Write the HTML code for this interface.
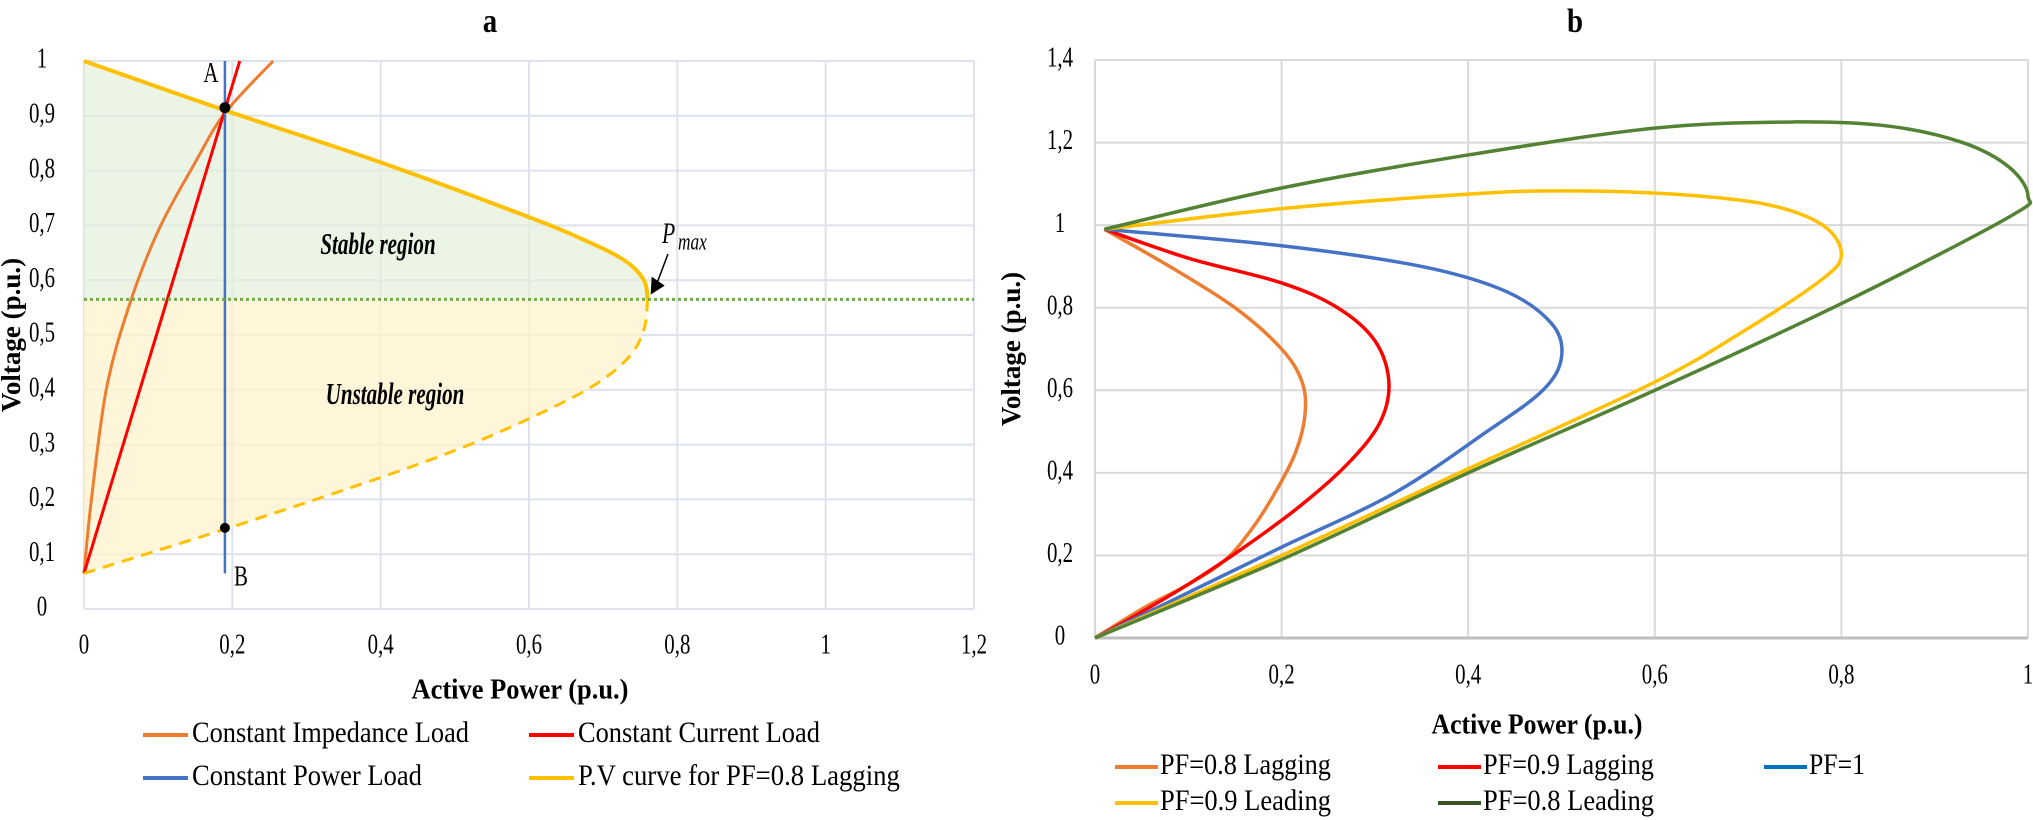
<!DOCTYPE html>
<html><head><meta charset="utf-8"><style>
html,body{margin:0;padding:0;background:#fff;}
svg{display:block;font-family:"Liberation Serif",serif;}
</style></head><body>
<svg id="svg" width="2033" height="820" viewBox="0 0 2033 820" xmlns="http://www.w3.org/2000/svg"></svg>
<script>
// ---------- Chart a data ----------
const aXTicks = [0, 0.2, 0.4, 0.6, 0.8, 1, 1.2];
const aYTicks = [0, 0.1, 0.2, 0.3, 0.4, 0.5, 0.6, 0.7, 0.8, 0.9, 1];
const pvUpperP = [0, 0.19, 0.4, 0.6, 0.68, 0.73, 0.755, 0.76];
const pvUpperV = [1, 0.91, 0.815, 0.715, 0.67, 0.635, 0.6, 0.565];
const pvLowerP = [0.76, 0.755, 0.735, 0.69, 0.62, 0.52, 0.4, 0.2, 0];
const pvLowerV = [0.565, 0.51, 0.46, 0.41, 0.36, 0.3, 0.24, 0.15, 0.065];
const impP = [0, 0.01, 0.03, 0.06, 0.1, 0.15, 0.19, 0.255];
const impV = [0.065, 0.2, 0.4, 0.55, 0.69, 0.815, 0.905, 1.0];
const curP = [0, 0.21];
const curV = [0.065, 1.0];
const powP = [0.19, 0.19];
const powV = [0.065, 1.0];
const limitV = 0.565;
const pointA = [0.19, 0.915];
const pointB = [0.19, 0.148];
const pmaxPoint = [0.76, 0.57];
// ---------- Chart b data ----------
const bXTicks = [0, 0.2, 0.4, 0.6, 0.8, 1];
const bYTicks = [0, 0.2, 0.4, 0.6, 0.8, 1, 1.2, 1.4];
const lag08P = [0.01, 0.08, 0.15, 0.2, 0.222, 0.225, 0.215, 0.195, 0.17, 0.14, 0.1, 0.05, 0];
const lag08V = [0.99, 0.9, 0.8, 0.7, 0.62, 0.54, 0.45, 0.36, 0.27, 0.19, 0.13, 0.07, 0];
const lag09P = [0.01, 0.1, 0.2, 0.26, 0.3, 0.315, 0.305, 0.27, 0.22, 0.16, 0.1, 0.04, 0];
const lag09V = [0.99, 0.92, 0.86, 0.8, 0.72, 0.62, 0.52, 0.42, 0.32, 0.22, 0.13, 0.05, 0];
const pf1P = [0.01, 0.2, 0.35, 0.44, 0.49, 0.5, 0.48, 0.42, 0.32, 0.2, 0.1, 0];
const pf1V = [0.99, 0.95, 0.9, 0.84, 0.76, 0.68, 0.6, 0.5, 0.35, 0.22, 0.11, 0];
const lead09P = [0.01, 0.2, 0.4, 0.5, 0.62, 0.72, 0.78, 0.8, 0.78, 0.7, 0.6, 0.4, 0.2, 0];
const lead09V = [0.99, 1.04, 1.075, 1.083, 1.075, 1.05, 1.0, 0.93, 0.87, 0.75, 0.62, 0.41, 0.2, 0];
const lead08P = [0.01, 0.2, 0.4, 0.6, 0.75, 0.85, 0.93, 0.98, 1.0, 0.98, 0.8, 0.6, 0.4, 0.2, 0];
const lead08V = [0.99, 1.09, 1.17, 1.235, 1.25, 1.24, 1.2, 1.14, 1.07, 1.02, 0.81, 0.6, 0.4, 0.19, 0];

const NS = "http://www.w3.org/2000/svg";
const svg = document.getElementById('svg');
function mk(tag, attrs, parent) {
  const e = document.createElementNS(NS, tag);
  for (const k in attrs) e.setAttribute(k, attrs[k]);
  (parent || svg).appendChild(e);
  return e;
}
function txt(str, x, y, size, opts, parent) {
  opts = opts || {};
  const g = mk('g', {}, parent);
  const t = mk('text', {x: 0, y: 0, 'font-size': size, 'text-anchor': opts.anchor || 'middle', 'dominant-baseline': 'middle', fill: '#000', 'font-weight': opts.bold ? 'bold' : 'normal', 'font-style': opts.italic ? 'italic' : 'normal'}, g);
  t.textContent = str;
  let sx = opts.sx || 0.72;
  if (opts.w) { const len = t.getComputedTextLength(); if (len > 0) sx = opts.w / len; }
  g.setAttribute('transform', `translate(${x},${y}) ${opts.rot ? 'rotate(' + opts.rot + ')' : ''} scale(${sx},1)`);
  return g;
}
function smooth(pts) {
  if (pts.length < 3) return 'M' + pts.map(p => p.join(',')).join('L');
  let d = 'M' + pts[0][0] + ',' + pts[0][1];
  for (let i = 0; i < pts.length - 1; i++) {
    const p0 = pts[i - 1] || pts[i], p1 = pts[i], p2 = pts[i + 1], p3 = pts[i + 2] || p2;
    const c1 = [p1[0] + (p2[0] - p0[0]) / 6, p1[1] + (p2[1] - p0[1]) / 6];
    const c2 = [p2[0] - (p3[0] - p1[0]) / 6, p2[1] - (p3[1] - p1[1]) / 6];
    d += `C${c1[0]},${c1[1]} ${c2[0]},${c2[1]} ${p2[0]},${p2[1]}`;
  }
  return d;
}

// ================= Chart a =================
const ax = v => 84 + v / 1.2 * 890;
const ay = v => 609 - v * 548;
const gA = mk('g', {});


txt('a', 490, 24, 34, {bold: true, sx: 0.85}, gA);
aYTicks.forEach(v => {
  const l = mk('line', {x1: ax(0), x2: ax(1.2), y1: ay(v), y2: ay(v), stroke: '#dde2ec', 'stroke-width': 2}, gA);
  
  
  const t = txt(String(v).replace('.', ','), 42, ay(v), 29, {}, gA);
  
  
});
aXTicks.forEach(v => {
  const l = mk('line', {x1: ax(v), x2: ax(v), y1: ay(0), y2: ay(1), stroke: '#dde2ec', 'stroke-width': 2}, gA);
  
  
  const t = txt(String(v).replace('.', ','), ax(v), 647, 29, {}, gA);
  
  
});
const upPts = pvUpperP.map((p, i) => [ax(p), ay(pvUpperV[i])]);
const loPts = pvLowerP.map((p, i) => [ax(p), ay(pvLowerV[i])]);
let stable = 'M' + ax(0) + ',' + ay(limitV) + 'L' + ax(0) + ',' + ay(1) + smooth(upPts).replace(/^M[^C]*/, '') + 'Z';
const st = mk('path', {d: stable, fill: '#e2efda', opacity: 0.7}, gA);


let unstable = smooth(loPts) + 'L' + ax(0) + ',' + ay(limitV) + 'Z';
const us = mk('path', {d: unstable, fill: '#fff2cc', opacity: 0.75}, gA);


const impPath = mk('path', {d: smooth(impP.map((p, i) => [ax(p), ay(impV[i])])), fill: 'none', stroke: '#ed7d31', 'stroke-width': 3}, gA);


const curPath = mk('path', {d: smooth(curP.map((p, i) => [ax(p), ay(curV[i])])), fill: 'none', stroke: '#ff0000', 'stroke-width': 3}, gA);


const powPath = mk('path', {d: smooth(powP.map((p, i) => [ax(p), ay(powV[i])])), fill: 'none', stroke: '#4472c4', 'stroke-width': 2.5}, gA);


const pvU = mk('path', {d: smooth(upPts), fill: 'none', stroke: '#ffc000', 'stroke-width': 4}, gA);


const pvL = mk('path', {d: smooth(loPts), fill: 'none', stroke: '#ffc000', 'stroke-width': 3, 'stroke-dasharray': '12,8'}, gA);


const lim = mk('line', {x1: ax(0), x2: ax(1.2), y1: ay(limitV), y2: ay(limitV), stroke: '#70ad47', 'stroke-width': 3, 'stroke-dasharray': '3,3'}, gA);


const pA = mk('circle', {cx: ax(pointA[0]), cy: ay(pointA[1]), r: 5.5, fill: '#000'}, gA);


const pB = mk('circle', {cx: ax(pointB[0]), cy: ay(pointB[1]), r: 5, fill: '#000'}, gA);


txt('A', ax(pointA[0]) - 14, ay(pointA[1]) - 32, 29, {}, gA);
txt('B', ax(pointB[0]) + 16, 579, 29, {}, gA);
txt('Stable region', 378, 247, 31, {bold: true, italic: true, sx: 0.68}, gA);
txt('Unstable region', 395, 397, 31, {bold: true, italic: true, sx: 0.68}, gA);
txt('P', 662, 236, 30, {italic: true, anchor: 'start'}, gA);
txt('max', 678, 244, 24, {italic: true, anchor: 'start'}, gA);
const arr = mk('line', {x1: 668, y1: 254, x2: ax(pmaxPoint[0]) + 8, y2: ay(pmaxPoint[1]) - 10, stroke: '#000', 'stroke-width': 1.5}, gA);


mk('polygon', {points: `${ax(pmaxPoint[0]) + 3},${ay(pmaxPoint[1]) - 2} ${ax(pmaxPoint[0]) + 4},${ay(pmaxPoint[1]) - 20} ${ax(pmaxPoint[0]) + 17},${ay(pmaxPoint[1]) - 11}`, fill: '#000'}, gA);
txt('Active Power (p.u.)', 520, 692, 29, {bold: true, w: 217}, gA);
txt('Voltage (p.u.)', 14, 335, 27, {bold: true, rot: -90, sx: 1}, gA);
const legA = [['Constant Impedance Load', '#ed7d31', 143, 735, 277], ['Constant Current Load', '#ff0000', 529, 735, 242], ['Constant Power Load', '#4472c4', 143, 778, 230], ['P.V curve for PF=0.8 Lagging', '#ffc000', 529, 778, 322]];
legA.forEach(e => {
  const g = mk('g', {}, gA);
  
  
  mk('line', {x1: e[2], x2: e[2] + 45, y1: e[3], y2: e[3], stroke: e[1], 'stroke-width': 4}, g);
  txt(e[0], e[2] + 49, e[3], 30, {anchor: 'start', w: e[4]}, g);
});

// ================= Chart b =================
const bx = v => 1095 + v * 933;
const by = v => 638 - v / 1.4 * 578;
const gB = mk('g', {});


txt('b', 1575, 24, 34, {bold: true, sx: 0.85}, gB);
bYTicks.forEach(v => {
  const l = mk('line', {x1: bx(0), x2: bx(1), y1: by(v), y2: by(v), stroke: '#d9d9d9', 'stroke-width': 2}, gB);
  
  
  const t = txt(String(v).replace('.', ','), 1060, by(v), 29, {}, gB);
  
  
});
bXTicks.forEach(v => {
  const l = mk('line', {x1: bx(v), x2: bx(v), y1: by(0), y2: by(1.4), stroke: '#d9d9d9', 'stroke-width': 2}, gB);
  
  
  const t = txt(String(v).replace('.', ','), bx(v), 677, 29, {}, gB);
  
  
});
mk('line', {x1: bx(0), x2: bx(1), y1: by(0), y2: by(0), stroke: '#bfbfbf', 'stroke-width': 3}, gB);
const seriesB = [
  ['pf-0.8-lagging-curve', lag08P, lag08V, '#ed7d31'],
  ['pf-0.9-lagging-curve', lag09P, lag09V, '#ff0000'],
  ['pf-1-curve', pf1P, pf1V, '#4472c4'],
  ['pf-0.9-leading-curve', lead09P, lead09V, '#ffc000'],
  ['pf-0.8-leading-curve', lead08P, lead08V, '#548235']
];
seriesB.forEach(s => {
  const p = mk('path', {d: smooth(s[1].map((x, i) => [bx(x), by(s[2][i])])), fill: 'none', stroke: s[3], 'stroke-width': 3.5}, gB);
  
  
});
txt('Active Power (p.u.)', 1537, 727, 29, {bold: true, w: 211}, gB);
txt('Voltage (p.u.)', 1014, 349, 27, {bold: true, rot: -90, sx: 1}, gB);
const legB = [['PF=0.8 Lagging', '#ed7d31', 1115, 767, 171], ['PF=0.9 Lagging', '#ff0000', 1438, 767, 171], ['PF=1', '#0070c0', 1764, 767, 56], ['PF=0.9 Leading', '#ffc000', 1115, 803, 171], ['PF=0.8 Leading', '#375623', 1438, 803, 171]];
legB.forEach(e => {
  const g = mk('g', {}, gB);
  
  
  mk('line', {x1: e[2], x2: e[2] + 43, y1: e[3], y2: e[3], stroke: e[1], 'stroke-width': 4}, g);
  txt(e[0], e[2] + 45, e[3], 30, {anchor: 'start', w: e[4]}, g);
});
</script>
</body></html>
